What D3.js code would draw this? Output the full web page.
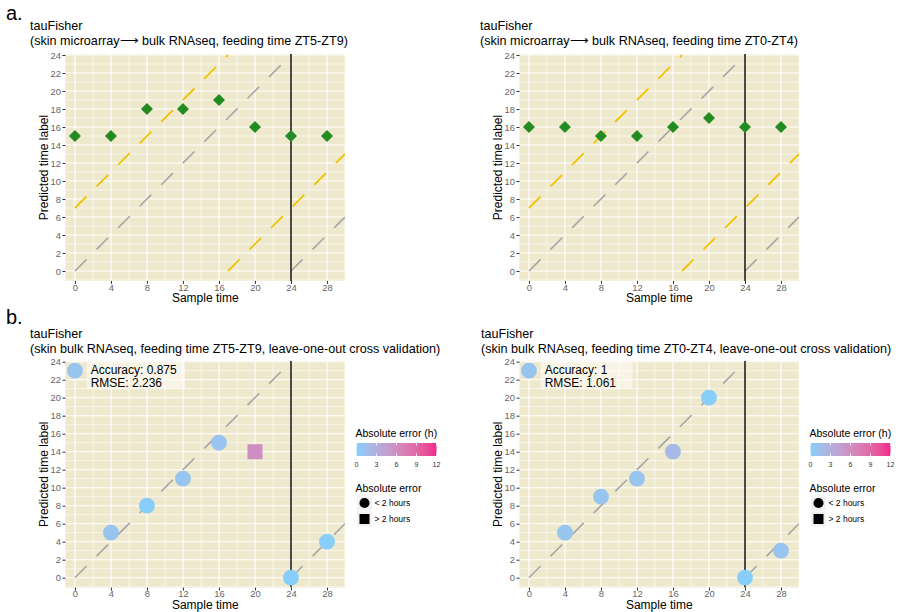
<!DOCTYPE html>
<html>
<head>
<meta charset="utf-8">
<script src="https://cdn.jsdelivr.net/npm/d3@7"></script>
<style>
  body { margin: 0; background: #fff; }
  svg { font-family: "Liberation Sans", Arial, Helvetica, sans-serif; }
</style>
</head>
<body>
<div id="chart"></div>
<script>
// sample times (h) and predicted time labels
const sampleTimes = [0, 4, 8, 12, 16, 20, 24, 28];
const predMicroZT5 = [15, 15, 18, 18, 19, 16, 15, 15];
const predMicroZT0 = [16, 16, 15, 15, 16, 17, 16, 16];
const predLoocvZT5 = [23, 5, 8, 11, 15, 14, 0, 4];
const predLoocvZT0 = [23, 5, 9, 11, 14, 20, 0, 3];

const xTickLabels = [0, 4, 8, 12, 16, 20, 24, 28];
const yTickLabels = [0, 2, 4, 6, 8, 10, 12, 14, 16, 18, 20, 22, 24];
const errTicks = [0, 3, 6, 9, 12];
const shapeLabels = ["< 2 hours", "> 2 hours"];

const refOffsetGray = 0;   // y = x (mod 24)
const refOffsetShift = 7;  // y = x + 7 (mod 24)

const W = 900, H = 612;
const svg = d3.select("#chart").append("svg")
  .attr("width", W).attr("height", H);

const bg = "#EEE8CD";
const errColor = d3.scaleLinear().domain([0, 12])
  .range(["#87CEFA", "#F0288C"]).interpolate(d3.interpolateLab);

function circErr(t, p) {
  const d = Math.abs(p - t) % 24;
  return Math.min(d, 24 - d);
}

// panel letters
svg.append("text").attr("x", 6).attr("y", 20).attr("font-size", 20).text("a.");
svg.append("text").attr("x", 6).attr("y", 324).attr("font-size", 20).text("b.");

let clipId = 0;
function drawPanel(o) {
  const x = d3.scaleLinear().domain([-1.05, 30]).range([o.left, o.left + 279.5]);
  const y = d3.scaleLinear().domain([-1.1, 24.1]).range([o.bottom, o.bottom - 226.8]);
  const [x0, x1] = x.range(), [y0, y1] = y.range();
  const g = svg.append("g");

  // titles
  g.append("text").attr("x", o.titleX).attr("y", o.titleY).attr("font-size", 12.6).text("tauFisher");
  g.append("text").attr("x", o.titleX).attr("y", o.titleY + 14.5).attr("font-size", 12.6).text(o.subtitle);

  g.append("rect").attr("x", x0).attr("y", y1).attr("width", x1 - x0).attr("height", y0 - y1).attr("fill", bg);

  const id = "clip" + (clipId++);
  svg.append("clipPath").attr("id", id).append("rect")
    .attr("x", x0).attr("y", y1).attr("width", x1 - x0).attr("height", y0 - y1);
  const p = g.append("g").attr("clip-path", `url(#${id})`);

  // grid
  const xMinor = d3.range(2, 31, 4), yMinor = d3.range(-1, 24, 2);
  p.selectAll(".xm").data(xMinor).join("line")
    .attr("x1", d => x(d)).attr("x2", d => x(d)).attr("y1", y1).attr("y2", y0)
    .attr("stroke", "#fff").attr("stroke-width", 0.6);
  p.selectAll(".ym").data(yMinor).join("line")
    .attr("y1", d => y(d)).attr("y2", d => y(d)).attr("x1", x0).attr("x2", x1)
    .attr("stroke", "#fff").attr("stroke-width", 0.6);
  p.selectAll(".xM").data(xTickLabels).join("line")
    .attr("x1", d => x(d)).attr("x2", d => x(d)).attr("y1", y1).attr("y2", y0)
    .attr("stroke", "#fff").attr("stroke-width", 1.1);
  p.selectAll(".yM").data(yTickLabels).join("line")
    .attr("y1", d => y(d)).attr("y2", d => y(d)).attr("x1", x0).attr("x2", x1)
    .attr("stroke", "#fff").attr("stroke-width", 1.1);

  // reference diagonals, wrapped at 24 h
  function refLine(offset, color, width) {
    const brk = 24 - offset;
    const segs = [[[0, offset], [brk, 24]], [[brk, 0], [30, 30 - brk]]];
    segs.forEach(s => {
      p.append("line")
        .attr("x1", x(s[0][0])).attr("y1", y(s[0][1]))
        .attr("x2", x(s[1][0])).attr("y2", y(s[1][1]))
        .attr("stroke", color).attr("stroke-width", width)
        .attr("stroke-dasharray", "16.5,14");
    });
  }
  refLine(refOffsetGray, "#A6A6A6", 1.6);
  if (o.shift) refLine(refOffsetShift, "#F0C400", 1.8);

  p.append("line").attr("x1", x(24)).attr("x2", x(24)).attr("y1", y1).attr("y2", y0)
    .attr("stroke", "#000").attr("stroke-width", 1.4);

  // axes
  const ax = g.append("g").attr("transform", `translate(0,${y0})`)
    .call(d3.axisBottom(x).tickValues(xTickLabels).tickSize(3).tickPadding(0));
  const ay = g.append("g").attr("transform", `translate(${x0},0)`)
    .call(d3.axisLeft(y).tickValues(yTickLabels).tickSize(3).tickPadding(1.5));
  [ax, ay].forEach(a => {
    a.select(".domain").remove();
    a.selectAll(".tick line").attr("stroke", "#333");
    a.selectAll(".tick text").attr("fill", "#666").attr("font-size", 9.4)
      .attr("font-family", "Liberation Sans, Arial, sans-serif");
  });

  g.append("text").attr("x", (x0 + x1) / 2).attr("y", y0 + 21.5).attr("text-anchor", "middle")
    .attr("font-size", 12).text("Sample time");
  g.append("text").attr("transform", `translate(${x0 - 18},${(y0 + y1) / 2}) rotate(-90)`)
    .attr("text-anchor", "middle").attr("font-size", 12).text("Predicted time label");

  const pts = sampleTimes.map((t, i) => ({t: t, p: o.pred[i], e: circErr(t, o.pred[i])}));

  if (o.mode === "diamond") {
    p.selectAll(".pt").data(pts).join("path")
      .attr("transform", d => `translate(${x(d.t)},${y(d.p)}) rotate(45)`)
      .attr("d", d3.symbol(d3.symbolSquare, 72)())
      .attr("fill", "#228B22");
  } else {
    p.selectAll(".pt").data(pts).join("path")
      .attr("transform", d => `translate(${x(d.t)},${y(d.p)})`)
      .attr("d", d => d.e <= 2 ? d3.symbol(d3.symbolCircle, 196)() : d3.symbol(d3.symbolSquare, 225)())
      .attr("fill", d => errColor(d.e));

    // accuracy / RMSE label
    const acc = pts.filter(d => d.e <= 2).length / pts.length;
    const rmse = Math.sqrt(d3.mean(pts, d => d.e * d.e));
    const lx = x(1.3), ly = y(24.05);
    const box = g.append("rect").attr("fill", "#fff").attr("fill-opacity", 0.5);
    const t1 = g.append("text").attr("x", lx + 4).attr("y", ly + 12.5).attr("font-size", 12)
      .text("Accuracy: " + (+acc.toFixed(3)));
    g.append("text").attr("x", lx + 4).attr("y", ly + 26).attr("font-size", 12)
      .text("RMSE: " + rmse.toFixed(3));
    const bb = t1.node().getBBox();
    box.attr("x", lx).attr("y", ly).attr("width", Math.max(bb.width + 12, 92)).attr("height", 28);

    // legends
    const lgx = x1 + 10.5;
    const lg = g.append("g");
    lg.append("text").attr("x", lgx).attr("y", 437).attr("font-size", 10.5).text("Absolute error (h)");
    const gid = "grad" + id;
    const grad = svg.append("defs").append("linearGradient").attr("id", gid);
    d3.range(0, 12.01, 1).forEach(v => {
      grad.append("stop").attr("offset", v / 12).attr("stop-color", errColor(v));
    });
    const bw = 80;
    const ex = d3.scaleLinear().domain([0, 12]).range([lgx + 1, lgx + 1 + bw]);
    lg.append("rect").attr("x", lgx + 1).attr("y", 443).attr("width", bw).attr("height", 13)
      .attr("fill", `url(#${gid})`);
    lg.selectAll(".tk").data(errTicks).join("g").each(function (v) {
      const s = d3.select(this);
      s.append("line").attr("x1", ex(v)).attr("x2", ex(v)).attr("y1", 443).attr("y2", 445.6)
        .attr("stroke", "#fff").attr("stroke-width", 0.8);
      s.append("line").attr("x1", ex(v)).attr("x2", ex(v)).attr("y1", 453.4).attr("y2", 456)
        .attr("stroke", "#fff").attr("stroke-width", 0.8);
      s.append("text").attr("x", ex(v)).attr("y", 467).attr("text-anchor", "middle")
        .attr("font-size", 7).attr("fill", "#333").text(v);
    });
    lg.append("text").attr("x", lgx).attr("y", 492).attr("font-size", 10.5).text("Absolute error");
    shapeLabels.forEach((lab, i) => {
      const cy = 503 + i * 16;
      lg.append("rect").attr("x", lgx + 1.5).attr("y", cy - 7.5).attr("width", 15).attr("height", 15)
        .attr("fill", "#F2F2F2");
      lg.append("path").attr("transform", `translate(${lgx + 9},${cy})`)
        .attr("d", i === 0 ? d3.symbol(d3.symbolCircle, 80)() : d3.symbol(d3.symbolSquare, 100)())
        .attr("fill", "#000");
      lg.append("text").attr("x", lgx + 19).attr("y", cy + 3).attr("font-size", 8.5).text(lab);
    });
  }
}

drawPanel({left: 65.5, bottom: 280.9, titleX: 30, titleY: 30, shift: true, mode: "diamond",
  pred: predMicroZT5, subtitle: "(skin microarray\u27F6 bulk RNAseq, feeding time ZT5-ZT9)"});
drawPanel({left: 519.5, bottom: 280.9, titleX: 480, titleY: 30, shift: true, mode: "diamond",
  pred: predMicroZT0, subtitle: "(skin microarray\u27F6 bulk RNAseq, feeding time ZT0-ZT4)"});
drawPanel({left: 65.5, bottom: 587.6, titleX: 30, titleY: 338, shift: false, mode: "error",
  pred: predLoocvZT5, subtitle: "(skin bulk RNAseq, feeding time ZT5-ZT9, leave-one-out cross validation)"});
drawPanel({left: 519.5, bottom: 587.6, titleX: 481, titleY: 338, shift: false, mode: "error",
  pred: predLoocvZT0, subtitle: "(skin bulk RNAseq, feeding time ZT0-ZT4, leave-one-out cross validation)"});
</script>
</body>
</html>
